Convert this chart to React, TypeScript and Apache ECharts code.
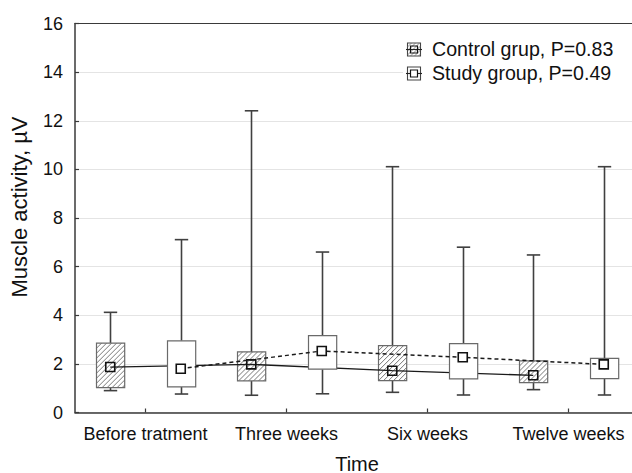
import React, { useEffect, useRef } from "react";
import * as echarts from "echarts";

const categories = ["Before tratment", "Three weeks", "Six weeks", "Twelve weeks"];
const yTicks = [0, 2, 4, 6, 8, 10, 12, 14, 16];

const controlMin = [0.9, 0.71, 0.83, 0.94];
const controlQ1 = [1.02, 1.3, 1.31, 1.23];
const controlMedian = [1.87, 1.98, 1.72, 1.53];
const controlQ3 = [2.85, 2.49, 2.75, 2.12];
const controlMax = [4.12, 12.41, 10.11, 6.48];

const studyMin = [0.76, 0.77, 0.72, 0.72];
const studyQ1 = [1.05, 1.78, 1.38, 1.39];
const studyMedian = [1.8, 2.53, 2.27, 1.98];
const studyQ3 = [2.95, 3.16, 2.83, 2.23];
const studyMax = [7.11, 6.6, 6.8, 10.11];

const legendNames = ["Control grup, P=0.83", "Study group, P=0.49"];

const FONT = "'Liberation Sans', Arial, sans-serif";
const AXIS_COLOR = "#3a3a3a";

const slots: string[] = [];
categories.forEach((c) => {
  slots.push(c + " control");
  slots.push(c + " study");
});

function hatch(x0: number, y0: number, w: number, h: number, step: number, style: any) {
  const out: any[] = [];
  const y1 = y0 + h;
  for (let k = -h; k < w; k += step) {
    const tMin = Math.max(0, -k);
    const tMax = Math.min(h, w - k);
    if (tMax - tMin > 0.2) {
      out.push({
        type: "line",
        shape: { x1: x0 + k + tMin, y1: y1 - tMin, x2: x0 + k + tMax, y2: y1 - tMax },
        style,
        silent: true,
      });
    }
  }
  return out;
}

function makeBoxData(mins: number[], q1: number[], med: number[], q3: number[], maxs: number[], offset: number) {
  return categories.map((_, i) => [i * 2 + offset, mins[i], q1[i], med[i], q3[i], maxs[i]]);
}

function boxRenderer(hatched: boolean) {
  return function (params: any, api: any) {
    const x = api.value(0);
    const pMin = api.coord([x, api.value(1)]);
    const pQ1 = api.coord([x, api.value(2)]);
    const pQ3 = api.coord([x, api.value(4)]);
    const pMax = api.coord([x, api.value(5)]);
    const band = api.size([1, 0])[0];
    const boxW = band * 0.4;
    const capW = band * 0.19;
    const cx = Math.round(pMin[0]) + 0.5;
    const left = Math.round(cx - boxW / 2) + 0.5;
    const top = pQ3[1];
    const h = pQ1[1] - pQ3[1];
    const wStyle = { stroke: "#404040", lineWidth: 1.6 };
    const children: any[] = [
      { type: "line", shape: { x1: cx, y1: pMax[1], x2: cx, y2: pQ3[1] }, style: wStyle },
      { type: "line", shape: { x1: cx, y1: pQ1[1], x2: cx, y2: pMin[1] }, style: wStyle },
      { type: "line", shape: { x1: cx - capW / 2, y1: pMax[1], x2: cx + capW / 2, y2: pMax[1] }, style: wStyle },
      { type: "line", shape: { x1: cx - capW / 2, y1: pMin[1], x2: cx + capW / 2, y2: pMin[1] }, style: wStyle },
      {
        type: "rect",
        shape: { x: left, y: top, width: boxW, height: h },
        style: { fill: "#ffffff", stroke: "none" },
      },
    ];
    if (hatched) {
      children.push(...hatch(left, top, boxW, h, 5, { stroke: "#555555", lineWidth: 0.8 }));
    }
    children.push({
      type: "rect",
      shape: { x: left, y: top, width: boxW, height: h },
      style: { fill: "none", stroke: "#6a6a6a", lineWidth: 1.2 },
    });
    return { type: "group", children };
  };
}

function legendGraphics() {
  const items: any[] = [
    { type: "rect", shape: { x: 403, y: 38, width: 229, height: 47 }, style: { fill: "#ffffff", stroke: "none" }, z: 10 },
  ];
  const iconX = 407;
  const size = 13;
  const rows = [49, 73];
  rows.forEach((cy, idx) => {
    const top = cy - size / 2;
    const els: any[] = [
      { type: "rect", shape: { x: iconX + 0.5, y: top + 0.5, width: size, height: size }, style: { fill: "#fff", stroke: "#444", lineWidth: 1.1 } },
    ];
    if (idx === 0) {
      els.push(...hatch(iconX + 0.5, top + 0.5, size, size, 4, { stroke: "#666", lineWidth: 0.7 }));
    }
    els.push({
      type: "line",
      shape: { x1: iconX - 1, y1: cy + 0.5, x2: iconX + size + 2, y2: cy + 0.5 },
      style: { stroke: "#222", lineWidth: 1.1 },
    });
    els.push({
      type: "rect",
      shape: { x: iconX + 3.5, y: cy - 3, width: 7, height: 7 },
      style: { fill: idx === 0 ? "none" : "#fff", stroke: "#111", lineWidth: 1.2 },
    });
    els.push({
      type: "text",
      x: 432,
      y: cy,
      style: { text: legendNames[idx], fontSize: 19.6, fontFamily: FONT, fill: "#111", verticalAlign: "middle" },
    });
    els.forEach((e) => (e.z = 11));
    items.push(...els);
  });
  return items;
}

export default function App() {
  const ref = useRef<HTMLDivElement>(null);
  useEffect(() => {
    if (!ref.current) return;
    const chart = echarts.init(ref.current, null, { renderer: "svg" });
    const option: any = {
      animation: false,
      backgroundColor: "#ffffff",
      textStyle: { fontFamily: FONT },
      grid: { left: 75, top: 23.5, bottom: 60.5, right: -7, containLabel: false, outerBoundsMode: "none" },
      xAxis: [
        {
          type: "category",
          data: categories,
          position: "bottom",
          boundaryGap: true,
          name: "Time",
          nameLocation: "middle",
          nameGap: 41,
          nameTextStyle: { fontSize: 20, color: "#111", fontFamily: FONT },
          axisLine: { show: true, lineStyle: { color: AXIS_COLOR, width: 1.5 } },
          axisTick: { show: true, alignWithLabel: true, inside: true, length: 4, lineStyle: { color: AXIS_COLOR, width: 1.2 } },
          axisLabel: { fontSize: 18, color: "#111", margin: 12, fontFamily: FONT, interval: 0 },
          splitLine: { show: false },
        },
        {
          type: "category",
          data: slots,
          position: "top",
          boundaryGap: true,
          axisLine: { show: true, lineStyle: { color: AXIS_COLOR, width: 1.2 } },
          axisTick: { show: false },
          axisLabel: { show: false },
          splitLine: { show: false },
        },
      ],
      yAxis: {
        type: "value",
        min: yTicks[0],
        max: yTicks[yTicks.length - 1],
        interval: 2,
        name: "Muscle activity, µV",
        nameLocation: "middle",
        nameGap: 45,
        nameTextStyle: { fontSize: 22, color: "#111", fontFamily: FONT, padding: [0, 0, 0, 22] },
        axisLine: { show: true, lineStyle: { color: AXIS_COLOR, width: 1.5 } },
        axisTick: { show: true, inside: true, length: 4, lineStyle: { color: AXIS_COLOR, width: 1.2 } },
        axisLabel: { fontSize: 18, color: "#111", margin: 12, fontFamily: FONT },
        splitLine: { show: true, lineStyle: { color: "#e4e4e4", width: 1 } },
      },
      graphic: legendGraphics(),
      series: [
        {
          name: legendNames[0],
          type: "custom",
          xAxisIndex: 1,
          z: 2,
          renderItem: boxRenderer(true),
          encode: { x: 0, y: [1, 2, 3, 4, 5] },
          data: makeBoxData(controlMin, controlQ1, controlMedian, controlQ3, controlMax, 0),
        },
        {
          name: legendNames[0] + " median",
          type: "line",
          xAxisIndex: 1,
          z: 3,
          data: controlMedian.map((v, i) => [i * 2, v]),
          lineStyle: { color: "#1a1a1a", width: 1.3, type: "solid" },
          symbol: "rect",
          symbolSize: 9,
          itemStyle: { color: "rgba(255,255,255,0)", borderColor: "#111", borderWidth: 1.6 },
        },
        {
          name: legendNames[1],
          type: "custom",
          xAxisIndex: 1,
          z: 4,
          renderItem: boxRenderer(false),
          encode: { x: 0, y: [1, 2, 3, 4, 5] },
          data: makeBoxData(studyMin, studyQ1, studyMedian, studyQ3, studyMax, 1),
        },
        {
          name: legendNames[1] + " median",
          type: "line",
          xAxisIndex: 1,
          z: 5,
          data: studyMedian.map((v, i) => [i * 2 + 1, v]),
          lineStyle: { color: "#1a1a1a", width: 1.5, type: [4, 3] },
          symbol: "rect",
          symbolSize: 9,
          itemStyle: { color: "#ffffff", borderColor: "#111", borderWidth: 1.6 },
        },
      ],
    };
    chart.setOption(option);
    return () => chart.dispose();
  }, []);
  return <div ref={ref} style={{ position: "fixed", left: 0, top: 0, width: 632, height: 473 }} />;
}
